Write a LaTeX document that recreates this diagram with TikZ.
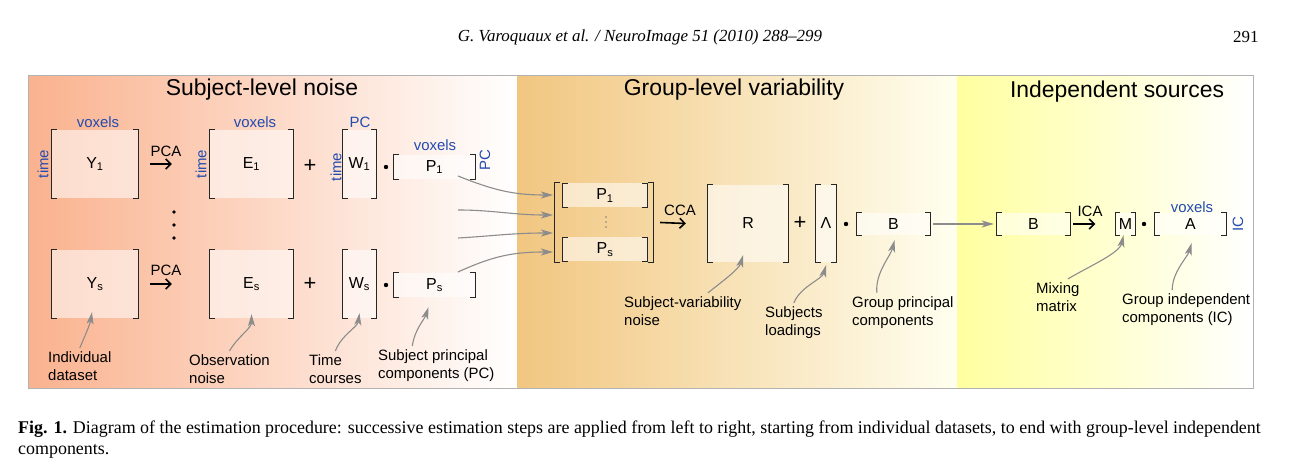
\documentclass[tikz,border=0pt]{standalone}
\usepackage{fontspec}
\setmainfont{Liberation Serif}
\newfontfamily\diafont{Liberation Sans}
\usetikzlibrary{arrows.meta}
\definecolor{salmon}{RGB}{250,178,142}
\definecolor{tanband}{RGB}{241,198,128}
\definecolor{paleyellow}{RGB}{255,255,160}
\definecolor{axisblue}{RGB}{35,75,175}

\begin{document}
\begin{tikzpicture}[x=1bp,y=-1bp,
  mat/.style={fill=white,fill opacity=0.55,text opacity=1,inner sep=0pt,
              font=\diafont\fontsize{16}{18}\selectfont},
  brk/.style={draw=black!85,line width=1.2bp},
  axlab/.style={text=axisblue,inner sep=0pt,font=\diafont\fontsize{15}{17}\selectfont},
  note/.style={anchor=north west,align=left,inner sep=0pt,
               font=\diafont\fontsize{15}{19}\selectfont},
  paneltitle/.style={font=\diafont\fontsize{23}{25}\selectfont},
  op/.style={inner sep=0pt,font=\diafont\fontsize{22}{24}\selectfont},
  pcaarrow/.style={-{Straight Barb[length=5bp,width=10bp]},line width=1.6bp},
  pointer/.style={draw=gray!90,line width=1.1bp,-{Stealth[length=12bp,width=7bp,inset=3bp]}}]
\useasboundingbox (0,0) rectangle (1309,472);

% page header
\node[font=\fontsize{17}{20}\selectfont\itshape] (head) at (640,37)
  {G. Varoquaux et al. / NeuroImage 51 (2010) 288--299};
\node[font=\fontsize{17}{20}\selectfont,anchor=east] (page) at (1262,37) {291};

% the three bands
\shade[left color=salmon,right color=white] (28,76) rectangle (517,388);
\shade[left color=tanband,right color=yellow!6] (517,76) rectangle (957,388);
\shade[left color=paleyellow,right color=white] (957,76) rectangle (1253,388);
\draw[gray!60,line width=1bp] (28,76) rectangle (1253,388);
\node[paneltitle] (t1) at (262,90) {Subject-level noise};
\node[paneltitle] (t2) at (734,90) {Group-level variability};
\node[paneltitle] (t3) at (1117,92) {Independent sources};

% subject level
\node[mat,minimum width=86bp,minimum height=68bp] (y1) at (95,164) {Y\textsubscript{1}};
\node[mat,minimum width=83bp,minimum height=68bp] (e1) at (251.5,164) {E\textsubscript{1}};
\node[mat,minimum width=33bp,minimum height=68bp] (w1) at (359.5,164) {W\textsubscript{1}};
\node[mat,minimum width=81bp,minimum height=24bp] (p1) at (434.5,167) {P\textsubscript{1}};
\node[mat,minimum width=86bp,minimum height=68bp] (ys) at (95,284) {Y\textsubscript{s}};
\node[mat,minimum width=83bp,minimum height=68bp] (es) at (251.5,284) {E\textsubscript{s}};
\node[mat,minimum width=33bp,minimum height=68bp] (ws) at (359.5,284) {W\textsubscript{s}};
\node[mat,minimum width=81bp,minimum height=24bp] (ps) at (434.5,285) {P\textsubscript{s}};

\node[axlab] (vox1) at (98,122) {voxels};
\node[axlab] (vox2) at (255,122) {voxels};
\node[axlab] (pc1) at (360,122) {PC};
\node[axlab] (vox3) at (435,145) {voxels};
\node[axlab,rotate=90] (time1) at (43,164) {time};
\node[axlab,rotate=90] (time2) at (201,164) {time};
\node[axlab,rotate=90] (time3) at (336,167) {time};
\node[axlab,rotate=90] (pc2) at (485,160) {PC};

\node[axlab,text=black] (pca1) at (166,151) {PCA};
\node[axlab,text=black] (pca2) at (166,270) {PCA};
\draw[pcaarrow] ([xshift=12bp]y1.east) -- ([xshift=-38bp]e1.west);
\draw[pcaarrow] ([xshift=12bp]ys.east) -- ([xshift=-38bp]es.west);
\node[op] (plus1) at (310,166) {+};
\node[op] (plus2) at (310,284) {+};
\foreach \yy in {212,225,238}
  \fill (174,\yy) circle (1.8bp);

% group level
\node[minimum width=98bp,minimum height=79bp,inner sep=0pt] (stk) at (604,222.5) {};
\node[mat,minimum width=84bp,minimum height=24bp] (p1g) at (605,195.5) {P\textsubscript{1}};
\node[mat,minimum width=84bp,minimum height=24bp] (psg) at (605,249.5) {P\textsubscript{s}};
\foreach \yy in {217,222,227}
  \fill[gray] (606,\yy) circle (0.8bp);
\node[mat,minimum width=80bp,minimum height=77bp] (r) at (748,223.5) {R};
\node[axlab,text=black] (cca) at (680,210) {CCA};
\draw[pcaarrow] ([xshift=7bp]stk.east) -- ([xshift=-22bp]r.west);
\node[op] (plus3) at (800,223) {+};
\node[mat,minimum width=20bp,minimum height=77bp] (lam) at (826,223.5) {Λ};
\node[mat,minimum width=73bp,minimum height=22bp] (b1) at (893.5,224) {B};

% independent sources
\node[mat,minimum width=73bp,minimum height=22bp] (b2) at (1033.5,224) {B};
\node[mat,minimum width=20bp,minimum height=22bp] (m) at (1125.5,224) {M};
\node[mat,minimum width=71bp,minimum height=22bp] (a) at (1190.5,224) {A};
\node[axlab] (vox4) at (1192,207) {voxels};
\node[axlab,rotate=90] (ic) at (1238,224) {IC};
\node[axlab,text=black] (ica) at (1090,211) {ICA};
\draw[pcaarrow] ([xshift=3bp]b2.east) -- ([xshift=-20bp]m.west);
\draw[pointer] ([xshift=3bp]b1.east) -- ([xshift=-3bp]b2.west);

% product dots
\foreach \ox/\oy in {386/167, 386/285, 846/224, 1144/224}
  \fill (\ox,\oy) circle (2.2bp);

% brackets round every matrix
\foreach \n in {y1,e1,w1,p1,ys,es,ws,ps,stk,p1g,psg,r,lam,b1,b2,m,a}
  \draw[brk] ([xshift=5bp]\n.north west) -| (\n.south west) -- ++(5bp,0)
             ([xshift=-5bp]\n.north east) -| (\n.south east) -- ++(-5bp,0);

% subject PCs feed the stacked matrix
\foreach \i/\ys/\ye/\dy in {1/176/195/14, 2/210/215/0, 3/238/233/-2, 4/272/252/-16} {
  \coordinate (from\i) at (458,\ys);
  \coordinate (to\i) at (553,\ye);
  \draw[pointer] (from\i) .. controls +(35,\dy) and +(-40,0) .. (to\i);
}

% annotations
\node[note] (indv) at (48,351) {Individual\\dataset};
\node[note] (obs) at (189,354) {Observation\\noise};
\node[note] (tc) at (309,354) {Time\\courses};
\node[note] (spc) at (378,349) {Subject principal\\components (PC)};
\node[note] (svn) at (624,296) {Subject-variability\\noise};
\node[note] (sl) at (765,306) {Subjects\\loadings};
\node[note] (gpc) at (852,296) {Group principal\\components};
\node[note] (mm) at (1036,282) {Mixing\\matrix};
\node[note] (gic) at (1122,293) {Group independent\\components (IC)};

\draw[pointer] ([yshift=3bp]indv.north) .. controls +(6,-14) and +(-2,12) .. ([shift={(-3bp,6bp)}]ys.south);
\draw[pointer] ([yshift=3bp]obs.north) .. controls +(8,-14) and +(0,14) .. ([yshift=4bp]es.south);
\draw[pointer] ([yshift=3bp]tc.north) .. controls +(6,-16) and +(-2,14) .. ([yshift=5bp]ws.south);
\draw[pointer] ([shift={(-24bp,3bp)}]spc.north) .. controls +(2,-16) and +(-4,12) .. ([shift={(-6bp,-10bp)}]ps.south);
\draw[pointer] ([shift={(25bp,3bp)}]svn.north) .. controls +(15,-12) and +(-4,14) .. ([shift={(-5bp,7bp)}]r.south);
\draw[pointer] ([yshift=3bp]sl.north) .. controls +(6,-16) and +(-4,14) .. ([yshift=-3bp]lam.south);
\draw[pointer] ([shift={(-26bp,3bp)}]gpc.north) .. controls +(-2,-20) and +(-4,16) .. ([shift={(1bp,-5bp)}]b1.south);
\draw[pointer] ([shift={(10bp,3bp)}]mm.north) .. controls +(20,-12) and +(-4,18) .. ([xshift=-2bp]m.south);
\draw[pointer] ([shift={(-14bp,3bp)}]gic.north) .. controls +(0,-18) and +(-4,14) .. ([shift={(1bp,-8bp)}]a.south);

% caption
\node[anchor=north west,align=left,inner sep=0pt,font=\fontsize{18}{21}\selectfont] (cap) at (18,421)
  {\textbf{Fig. 1.} Diagram of the estimation procedure: successive estimation steps are applied from left to right, starting from individual datasets, to end with group-level independent\\components.};
\end{tikzpicture}
\end{document}
